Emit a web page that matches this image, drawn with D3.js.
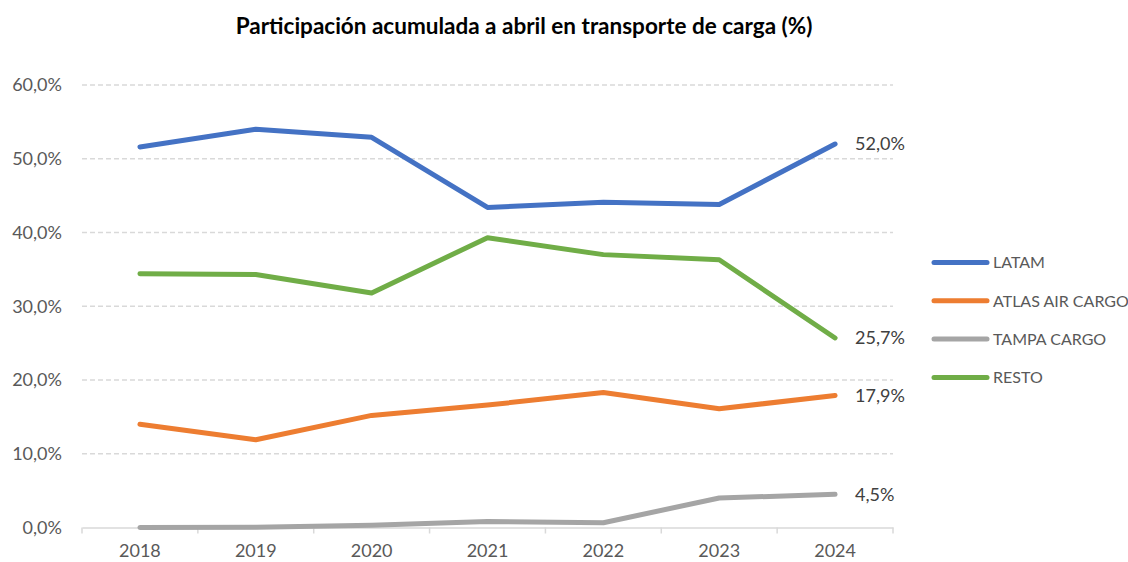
<!DOCTYPE html>
<html>
<head>
<meta charset="utf-8">
<script src="https://cdn.jsdelivr.net/npm/d3@7/dist/d3.min.js"></script>
<style>
  body { margin: 0; background: #fff; }
  svg { display: block; font-family: Lato, "Open Sans", sans-serif; }
</style>
</head>
<body>
<svg id="chart" width="1128" height="562"></svg>
<script>
const years = ["2018", "2019", "2020", "2021", "2022", "2023", "2024"];
const seriesNames = ["LATAM", "ATLAS AIR CARGO", "TAMPA CARGO", "RESTO"];
const latam = [51.6, 54.0, 52.9, 43.4, 44.1, 43.8, 52.0];
const atlas = [14.0, 11.9, 15.2, 16.6, 18.3, 16.1, 17.9];
const tampa = [0.0, 0.05, 0.3, 0.8, 0.65, 4.0, 4.5];
const resto = [34.4, 34.3, 31.8, 39.3, 37.0, 36.3, 25.7];
const colors = ["#4472C4", "#ED7D31", "#A5A5A5", "#70AD47"];
const yTicks = [0, 10, 20, 30, 40, 50, 60];
const title = "Participación acumulada a abril en transporte de carga (%)";

const series = [latam, atlas, tampa, resto];
const fmt = v => v.toFixed(1).replace(".", ",") + "%";

const svg = d3.select("#chart");
const plot = { left: 82, right: 893, top: 85, bottom: 527.5 };

const x = d3.scaleBand().domain(years).range([plot.left, plot.right]);
const y = d3.scaleLinear().domain([0, 60]).range([plot.bottom, plot.top]);
const cx = d => x(d) + x.bandwidth() / 2;

// title
svg.append("text")
  .attr("x", 524).attr("y", 34)
  .attr("text-anchor", "middle")
  .attr("font-weight", "bold")
  .attr("font-size", 22.5)
  .attr("fill", "#000")
  .text(title);

// gridlines
svg.append("g").selectAll("line")
  .data(yTicks.filter(t => t > 0))
  .join("line")
  .attr("x1", plot.left).attr("x2", plot.right)
  .attr("y1", d => y(d)).attr("y2", d => y(d))
  .attr("stroke", "#d9d9d9").attr("stroke-width", 1.5)
  .attr("stroke-dasharray", "5,3");

// y axis labels
const yAxis = d3.axisLeft(y).tickValues(yTicks).tickFormat(fmt).tickSize(0).tickPadding(20);
const gy = svg.append("g").attr("transform", `translate(${plot.left},0)`).call(yAxis);
gy.select(".domain").remove();
gy.selectAll("text").attr("font-size", 18).attr("fill", "#595959").attr("font-family", "Lato, sans-serif");

// x axis
const xAxis = d3.axisBottom(x).tickSize(0).tickPadding(15);
const gx = svg.append("g").attr("transform", `translate(0,${plot.bottom})`).call(xAxis);
gx.select(".domain").attr("stroke", "#d9d9d9").attr("stroke-width", 1.5);
gx.selectAll("text").attr("font-size", 18).attr("fill", "#595959").attr("font-family", "Lato, sans-serif").attr("dy", "0.8em");
// category boundary ticks
const bounds = years.map(d => x(d)).concat([x(years[years.length - 1]) + x.bandwidth()]);
svg.append("g").selectAll("line").data(bounds).join("line")
  .attr("x1", d => d).attr("x2", d => d)
  .attr("y1", plot.bottom).attr("y2", plot.bottom + 6)
  .attr("stroke", "#d9d9d9").attr("stroke-width", 1.5);

// lines
const line = d3.line().x((d, i) => cx(years[i])).y(d => y(d));
svg.append("g").selectAll("path")
  .data(series)
  .join("path")
  .attr("d", d => line(d))
  .attr("fill", "none")
  .attr("stroke", (d, i) => colors[i])
  .attr("stroke-width", 5)
  .attr("stroke-linecap", "round")
  .attr("stroke-linejoin", "round");

// end labels
const last = years.length - 1;
svg.append("g").selectAll("text")
  .data(series)
  .join("text")
  .attr("x", cx(years[last]) + 20)
  .attr("y", d => y(d[last]))
  .attr("dy", "0.35em")
  .attr("font-size", 18)
  .attr("fill", "#404040")
  .text(d => fmt(d[last]));

// legend
const lg = svg.append("g").selectAll("g")
  .data(seriesNames)
  .join("g")
  .attr("transform", (d, i) => `translate(934,${262.5 + i * 38.3})`);
lg.append("line")
  .attr("x1", 0).attr("x2", 53)
  .attr("stroke", (d, i) => colors[i])
  .attr("stroke-width", 5)
  .attr("stroke-linecap", "round");
lg.append("text")
  .attr("x", 59).attr("dy", "0.36em")
  .attr("font-size", 16)
  .attr("fill", "#595959")
  .text(d => d);
</script>
</body>
</html>
